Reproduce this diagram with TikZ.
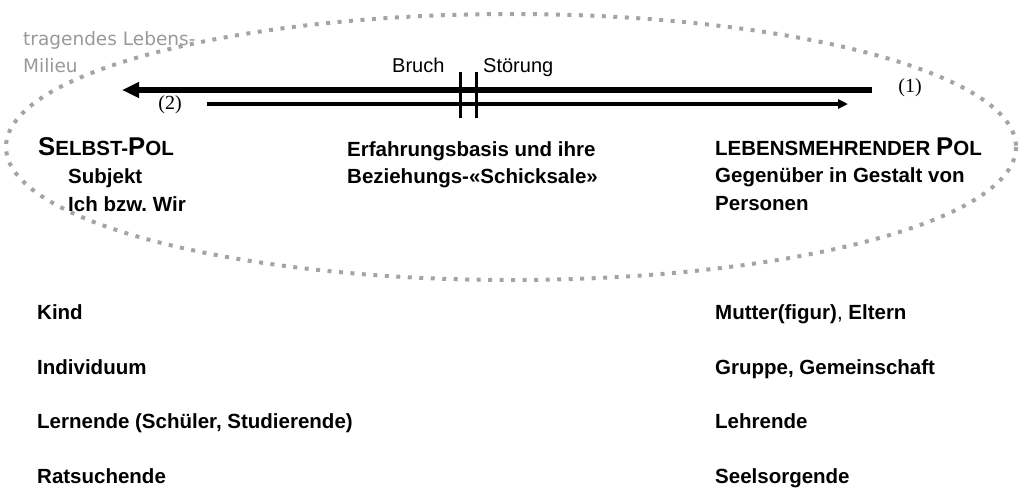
\documentclass[tikz,border=0pt]{standalone}
\usepackage{fontspec}
\setmainfont{Liberation Sans}
\newfontfamily\graysans{DejaVu Sans}
\newfontfamily\serifnum{Liberation Serif}
\usetikzlibrary{arrows.meta}
\definecolor{dotgray}{HTML}{A4A4A4}
\definecolor{labgray}{HTML}{999999}
\frenchspacing
\tikzset{
  lbl/.style={font=\bfseries\fontsize{20.5}{24}\selectfont, anchor=base west, inner sep=0pt},
  milieu/.style={font=\graysans\fontsize{18.5}{22}\selectfont, text=labgray, anchor=base west, inner sep=0pt},
  plain/.style={font=\fontsize{20}{24}\selectfont, anchor=base west, inner sep=0pt},
  num/.style={font=\serifnum\fontsize{20}{24}\selectfont, inner sep=0pt},
  thickarrow/.style={line width=6pt, -{Triangle[length=17pt,width=15pt]}},
  thinarrow/.style={line width=3.2pt, -{Triangle[length=10pt,width=9pt]}},
  bar/.style={line width=3pt},
  dotring/.style={draw=dotgray, line width=4pt, dash pattern=on 4pt off 7.5pt}
}
\newcommand{\bigc}[1]{{\fontsize{25.7}{26}\selectfont #1}}
\begin{document}
\begin{tikzpicture}[x=1pt,y=-1pt]
\useasboundingbox (0,0) rectangle (1018,488);
\draw[dotring] (511,147) ellipse [x radius=505, y radius=133];
\node[milieu] (mil1) at (23,45) {tragendes Lebens-};
\node[milieu] (mil2) at (23,72) {Milieu};
% arrows
\coordinate (t1) at (872,90);
\coordinate (t2) at (122,90);
\coordinate (s1) at (207,104);
\coordinate (s2) at (848,104);
\draw[thickarrow] (t1) -- (t2);
\draw[thinarrow] (s1) -- (s2);
\coordinate (b1a) at (460,72); \coordinate (b1b) at (460,118);
\coordinate (b2a) at (476,72); \coordinate (b2b) at (476,118);
\draw[bar] (b1a) -- (b1b);
\draw[bar] (b2a) -- (b2b);
\node[plain] (bruch) at (392,72) {Bruch};
\node[plain] (stoer) at (483,72) {Störung};
\node[num] (n1) at (910,88) {(1)};
\node[num] (n2) at (170,105) {(2)};
% top texts
\node[lbl] (selbst) at (38,155) {\bigc{S}ELBST-\bigc{P}OL};
\node[lbl] (subj) at (68,183) {Subjekt};
\node[lbl] (ich) at (68,211) {Ich bzw. Wir};
\node[lbl] (erf) at (347,156) {Erfahrungsbasis und ihre};
\node[lbl] (bez) at (347,183) {Beziehungs-«Schicksale»};
\node[lbl] (leb) at (715,155) {LEBENSMEHRENDER \bigc{P}OL};
\node[lbl] (geg) at (715,182) {Gegenüber in Gestalt von};
\node[lbl] (pers) at (715,210) {Personen};
% lists
\node[lbl] (kind) at (37,319) {Kind};
\node[lbl] (indiv) at (37,374) {Individuum};
\node[lbl] (lern) at (37,428) {Lernende (Schüler, Studierende)};
\node[lbl] (rat) at (37,483) {Ratsuchende};
\node[lbl] (mutter) at (715,319) {Mutter(figur)\textmd{,} Eltern};
\node[lbl] (gruppe) at (715,374) {Gruppe, Gemeinschaft};
\node[lbl] (lehr) at (715,428) {Lehrende};
\node[lbl] (seel) at (715,483) {Seelsorgende};
\end{tikzpicture}
\end{document}
